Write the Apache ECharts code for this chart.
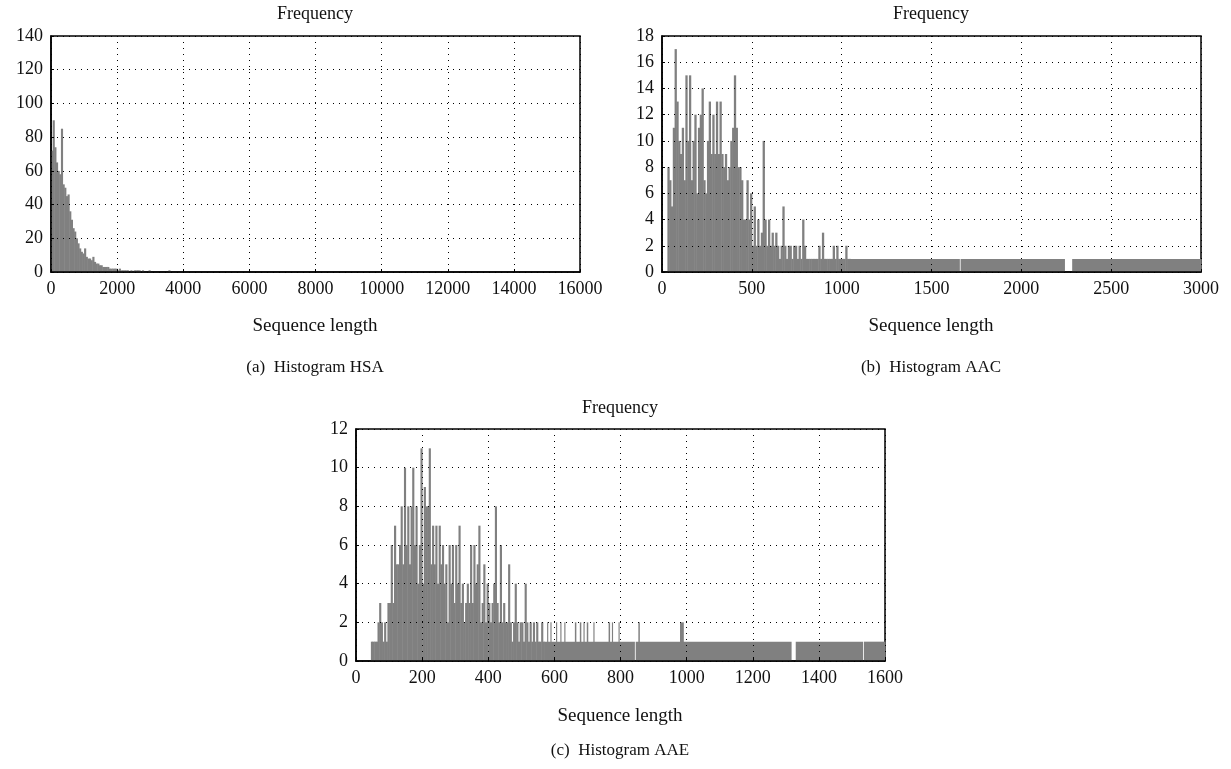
<!DOCTYPE html>
<html>
<head>
<meta charset="utf-8">
<title>Histograms</title>
<script src="https://cdn.jsdelivr.net/npm/echarts@6/dist/echarts.min.js"></script>
<style>
html, body { margin: 0; padding: 0; background: #fff; }
#main { width: 1231px; height: 769px; }
</style>
</head>
<body>
<div id="main"></div>
<script>
// (a) HSA: bins of 50 starting at 0
var hsaBinStart = 0;
var hsaBinWidth = 50;
var hsaCounts = [72, 90, 74, 65, 60, 58, 85, 52, 50, 45, 46, 36, 31, 26, 24, 20, 17, 14, 12, 11,
    14, 9, 8, 8, 7, 9, 6, 5, 5, 4, 4, 3, 3, 3, 3, 2, 2, 2, 2, 2,
    1, 2, 1, 1, 1, 1, 1, 0, 1, 0, 1, 1, 1, 1, 0, 1, 0, 0, 0, 1];
var hsaExtra = [[3550, 3600, 1]];

// (b) AAC: bins of 10 starting at 30, then long runs of 1
var aacBinStart = 30;
var aacBinWidth = 10;
var aacCounts = [8, 7, 5, 11, 17, 13, 10, 9, 11, 7, 15, 10, 15, 7, 10, 12, 6, 11, 12, 14,
    7, 6, 10, 13, 9, 12, 9, 13, 9, 13, 9, 8, 9, 7, 8, 10, 11, 15, 11, 8,
    8, 7, 4, 4, 7, 4, 6, 2, 5, 2, 4, 2, 3, 10, 4, 2, 4, 2, 3, 2,
    3, 2, 1, 2, 5, 2, 1, 2, 2, 1, 2, 2, 1, 2, 1, 4, 2, 1, 1, 1,
    1, 1, 1, 1, 2, 1, 3, 1, 1, 1, 1, 1, 2, 1, 2, 1, 1, 1, 1, 2,
    1, 1];
var aacExtra = [[1050, 1655, 1], [1662, 2240, 1], [2283, 3000, 1]];

// (c) AAE: bins of 5 starting at 45, then runs of 1 with a few 2s
var aaeBinStart = 45;
var aaeBinWidth = 5;
var aaeCounts = [1, 1, 1, 1, 2, 3, 2, 1, 2, 1, 3, 3, 6, 3, 7, 5, 5, 6, 8, 5,
    10, 6, 8, 5, 8, 10, 6, 8, 4, 6, 11, 4, 9, 8, 8, 11, 5, 7, 5, 7,
    4, 7, 5, 6, 4, 5, 2, 6, 4, 6, 3, 6, 4, 7, 3, 4, 2, 3, 4, 3,
    6, 3, 6, 4, 5, 7, 2, 3, 5, 2, 4, 3, 2, 3, 4, 8, 3, 2, 6, 2,
    3, 2, 2, 5, 2, 1, 2, 4, 2, 1, 2, 2, 1, 4, 2, 1, 2, 1, 2, 1,
    2, 1, 1, 2, 1];
var aaeExtra = [[570, 842, 1], [846, 1316, 1], [1330, 1532, 1], [1536, 1600, 1],
    [578, 580, 2], [588, 590, 2], [605, 607, 2], [618, 620, 2], [630, 632, 2],
    [662, 665, 2], [677, 680, 2], [688, 690, 2], [698, 701, 2], [718, 720, 2],
    [764, 767, 2], [774, 776, 2], [794, 796, 2], [854, 857, 2], [980, 990, 2]];

var FONT = 'Liberation Serif';
var BAR = '#808080';

function toBars(start, width, counts, extra)
{
    var out = [];
    for (var i = 0; i < counts.length; i++)
    {
        if (counts[i] > 0) out.push([start + i * width, start + (i + 1) * width, counts[i]]);
    }
    return out.concat(extra);
}

function renderBar(params, api)
{
    var p0 = api.coord([api.value(0), api.value(2)]);
    var p1 = api.coord([api.value(1), 0]);
    // small overlap so neighbouring bins do not leave white seams
    return {
        type: 'rect',
        shape: { x: p0[0], y: p0[1], width: Math.max(p1[0] - p0[0], 0.6) + 0.5, height: p1[1] - p0[1] },
        style: { fill: BAR }
    };
}

function plain(v) { return String(v); }

function xAxisFor(idx, max, interval)
{
    return {
        gridIndex: idx, type: 'value', min: 0, max: max, interval: interval,
        axisLine: { show: true, onZero: false, lineStyle: { color: '#000', width: 1.5 } },
        axisTick: { show: true, inside: true, length: 3, lineStyle: { color: '#000' } },
        axisLabel: { color: '#111', fontFamily: FONT, fontSize: 18, margin: 8, formatter: plain },
        splitLine: { show: true, lineStyle: { color: '#000', width: 1, type: [1, 5] } },
        z: 5
    };
}

function yAxisFor(idx, max, interval)
{
    return {
        gridIndex: idx, type: 'value', min: 0, max: max, interval: interval,
        axisLine: { show: true, lineStyle: { color: '#000', width: 1.5 } },
        axisTick: { show: true, inside: true, length: 3, lineStyle: { color: '#000' } },
        axisLabel: { color: '#111', fontFamily: FONT, fontSize: 18, margin: 8, formatter: plain },
        splitLine: { show: true, lineStyle: { color: '#000', width: 1, type: [1, 5] } },
        z: 5
    };
}

function label(text, x, y, size)
{
    return {
        type: 'text', x: x, y: y,
        style: { text: text, fill: '#111', font: size + 'px "' + FONT + '"', align: 'center', verticalAlign: 'middle' }
    };
}

var frame = { show: true, borderColor: '#000', borderWidth: 1.5, backgroundColor: 'transparent' };

var option = {
    animation: false,
    backgroundColor: '#fff',
    grid: [
        Object.assign({ left: 51, top: 36, width: 529, height: 236 }, frame),
        Object.assign({ left: 662, top: 36, width: 539, height: 236 }, frame),
        Object.assign({ left: 356, top: 429, width: 529, height: 232 }, frame)
    ],
    xAxis: [xAxisFor(0, 16000, 2000), xAxisFor(1, 3000, 500), xAxisFor(2, 1600, 200)],
    yAxis: [yAxisFor(0, 140, 20), yAxisFor(1, 18, 2), yAxisFor(2, 12, 2)],
    series: [
        { type: 'custom', xAxisIndex: 0, yAxisIndex: 0, renderItem: renderBar, encode: { x: [0, 1], y: 2 },
          data: toBars(hsaBinStart, hsaBinWidth, hsaCounts, hsaExtra) },
        { type: 'custom', xAxisIndex: 1, yAxisIndex: 1, renderItem: renderBar, encode: { x: [0, 1], y: 2 },
          data: toBars(aacBinStart, aacBinWidth, aacCounts, aacExtra) },
        { type: 'custom', xAxisIndex: 2, yAxisIndex: 2, renderItem: renderBar, encode: { x: [0, 1], y: 2 },
          data: toBars(aaeBinStart, aaeBinWidth, aaeCounts, aaeExtra) }
    ],
    graphic: [
        label('Frequency', 315, 14, 18),
        label('Frequency', 931, 14, 18),
        label('Frequency', 620, 408, 18),
        label('Sequence length', 315, 326, 19),
        label('Sequence length', 931, 326, 19),
        label('Sequence length', 620, 716, 19),
        label('(a)  Histogram HSA', 315, 368, 17),
        label('(b)  Histogram AAC', 931, 368, 17),
        label('(c)  Histogram AAE', 620, 751, 17)
    ]
};

var myChart = echarts.init(document.getElementById('main'));
myChart.setOption(option);
</script>
</body>
</html>
